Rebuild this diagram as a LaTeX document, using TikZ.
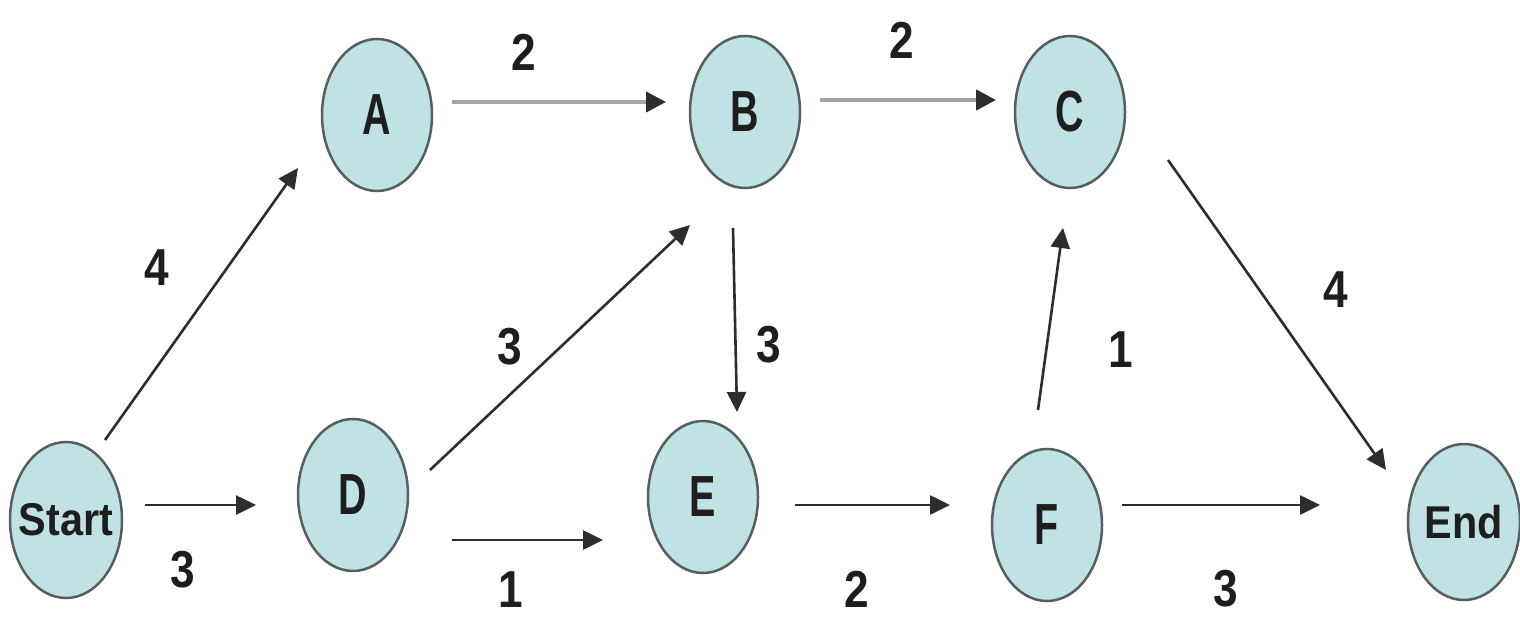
\documentclass[tikz,border=0pt]{standalone}
\usepackage{fontspec}
\usetikzlibrary{shapes.geometric,arrows.meta}
\newfontfamily\nodefont[FakeStretch=0.68]{Liberation Sans Bold}
\newfontfamily\endfont[FakeStretch=0.9]{Liberation Sans Bold}
\newfontfamily\labfont[FakeStretch=0.85]{Liberation Sans Bold}
\definecolor{nodefill}{RGB}{192,226,228}
\definecolor{nodeline}{RGB}{85,95,95}
\definecolor{darkline}{RGB}{45,45,45}
\definecolor{lightline}{RGB}{165,165,165}
\definecolor{txt}{RGB}{30,30,30}
\begin{document}
\begin{tikzpicture}[x=1pt,y=-1pt,
  vertex/.style={ellipse,draw=nodeline,line width=2.5pt,fill=nodefill,
    minimum width=110pt,minimum height=152pt,inner sep=0pt,text=txt,
    font=\nodefont\fontsize{58}{60}\selectfont},
  termvertex/.style={vertex,minimum width=112pt,minimum height=156pt,
    font=\endfont\fontsize{46}{48}\selectfont},
  conn/.style={draw=darkline,line width=2.6pt,
    -{Triangle[length=20pt,width=19pt]}},
  lconn/.style={conn,draw=lightline,line width=4pt,
    -{Triangle[length=20pt,width=20pt,color=darkline]}},
  weight/.style={text=txt,font=\labfont\fontsize{52}{54}\selectfont,inner sep=0pt}]
\useasboundingbox[fill=white] (0,0) rectangle (1520,620);

\node[termvertex] (S) at (66,520) {\makebox[0pt]{Start}};
\node[vertex] (A) at (377,115) {A};
\node[vertex] (B) at (745,112) {B};
\node[vertex] (C) at (1070,112) {C};
\node[vertex] (D) at (353,495) {D};
\node[vertex] (E) at (703,497) {E};
\node[vertex] (F) at (1047,525) {F};
\node[termvertex] (End) at (1464,522) {\makebox[0pt]{End}};

% free ends of connectors
\coordinate (sa0) at (105,440);  \coordinate (sa1) at (298,168);
\coordinate (sd0) at (145,505);  \coordinate (sd1) at (256,505);
\coordinate (ab0) at (452,102);  \coordinate (ab1) at (666,102);
\coordinate (bc0) at (820,100);  \coordinate (bc1) at (996,100);
\coordinate (db0) at (430,470);  \coordinate (db1) at (690,225);
\coordinate (be0) at (733,228);  \coordinate (be1) at (737,412);
\coordinate (de0) at (452,540);  \coordinate (de1) at (603,540);
\coordinate (ef0) at (795,505);  \coordinate (ef1) at (950,505);
\coordinate (fc0) at (1038,410); \coordinate (fc1) at (1063,228);
\coordinate (ce0) at (1168,160); \coordinate (ce1) at (1386,470);
\coordinate (fe0) at (1122,505); \coordinate (fe1) at (1320,505);

\draw[conn] (sa0) -- (sa1);
\draw[conn] (sd0) -- (sd1);
\draw[lconn] (ab0) -- (ab1);
\draw[lconn] (bc0) -- (bc1);
\draw[conn] (db0) -- (db1);
\draw[conn] (be0) -- (be1);
\draw[conn] (de0) -- (de1);
\draw[conn] (ef0) -- (ef1);
\draw[conn] (fc0) -- (fc1);
\draw[conn] (ce0) -- (ce1);
\draw[conn] (fe0) -- (fe1);

\node[weight] (w1) at (157,268) {4};
\node[weight] (w2) at (183,570) {3};
\node[weight] (w3) at (524,52) {2};
\node[weight] (w4) at (902,40) {2};
\node[weight] (w5) at (510,347) {3};
\node[weight] (w6) at (769,345) {3};
\node[weight] (w7) at (511,590) {1};
\node[weight] (w8) at (857,589) {2};
\node[weight] (w9) at (1121,350) {1};
\node[weight] (w10) at (1336,290) {4};
\node[weight] (w11) at (1226,589) {3};
\end{tikzpicture}
\end{document}
